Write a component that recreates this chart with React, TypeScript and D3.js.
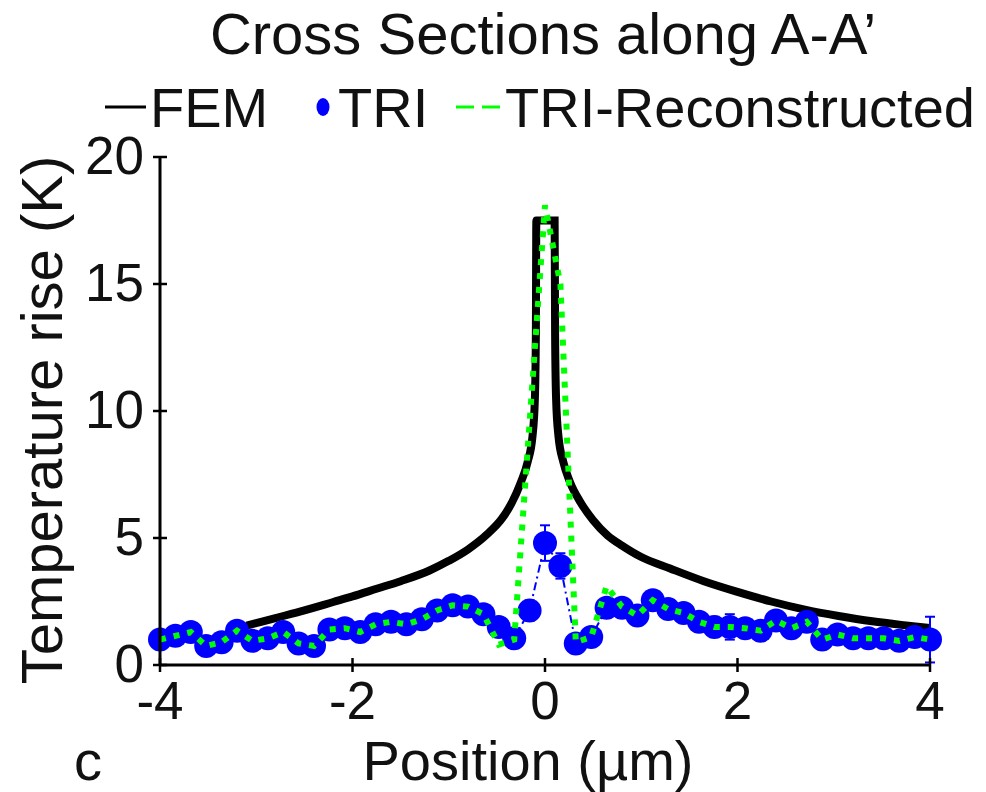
import React from "react";
import * as d3 from "d3";

// FEM curve
const femX = [-3.1, -2.8, -2.5, -2.2, -2.0, -1.75, -1.5, -1.2, -1.0, -0.8, -0.6, -0.45, -0.35, -0.25, -0.18, -0.13, -0.105, -0.095, -0.09, 0.1, 0.105, 0.115, 0.14, 0.19, 0.26, 0.37, 0.5, 0.65, 0.8, 1.0, 1.3, 1.65, 2.0, 2.35, 2.7, 3.05, 3.4, 3.7, 4.0];
const femT = [1.55, 1.85, 2.15, 2.48, 2.7, 3.0, 3.3, 3.72, 4.1, 4.55, 5.15, 5.75, 6.35, 7.2, 8.0, 9.0, 10.5, 13.0, 17.5, 17.5, 13.0, 10.5, 9.0, 8.0, 7.2, 6.4, 5.7, 5.1, 4.7, 4.25, 3.8, 3.3, 2.88, 2.5, 2.18, 1.93, 1.72, 1.58, 1.46];

// TRI measured points
const triX = [-4.0, -3.84, -3.68, -3.52, -3.36, -3.2, -3.04, -2.88, -2.72, -2.56, -2.4, -2.24, -2.08, -1.92, -1.76, -1.6, -1.44, -1.28, -1.12, -0.96, -0.8, -0.64, -0.48, -0.32, -0.16, 0.0, 0.16, 0.32, 0.48, 0.64, 0.8, 0.96, 1.12, 1.28, 1.44, 1.6, 1.76, 1.92, 2.08, 2.24, 2.4, 2.56, 2.72, 2.88, 3.04, 3.2, 3.36, 3.52, 3.68, 3.84, 4.0];
const triT = [1.0, 1.15, 1.3, 0.75, 0.9, 1.35, 0.95, 1.05, 1.3, 0.85, 0.75, 1.4, 1.45, 1.3, 1.6, 1.7, 1.6, 1.8, 2.15, 2.35, 2.3, 2.0, 1.5, 1.05, 2.15, 4.8, 3.9, 0.85, 1.1, 2.25, 2.25, 1.95, 2.55, 2.2, 2.05, 1.7, 1.5, 1.5, 1.45, 1.35, 1.75, 1.45, 1.7, 1.0, 1.2, 1.05, 1.05, 1.05, 0.95, 1.1, 1.0];
const triErr = [0.3, 0.3, 0.3, 0.3, 0.3, 0.3, 0.3, 0.3, 0.3, 0.3, 0.3, 0.3, 0.3, 0.3, 0.3, 0.3, 0.3, 0.3, 0.3, 0.3, 0.3, 0.3, 0.3, 0.3, 0.4, 0.7, 0.5, 0.3, 0.3, 0.3, 0.3, 0.3, 0.3, 0.3, 0.3, 0.3, 0.4, 0.5, 0.3, 0.3, 0.3, 0.3, 0.3, 0.3, 0.3, 0.3, 0.3, 0.3, 0.3, 0.3, 0.9];

// TRI-Reconstructed
const recX = [-4.0, -3.84, -3.68, -3.52, -3.36, -3.2, -3.04, -2.88, -2.72, -2.56, -2.4, -2.24, -2.08, -1.92, -1.76, -1.6, -1.44, -1.28, -1.12, -0.96, -0.8, -0.64, -0.48, -0.32, 0.0, 0.16, 0.32, 0.48, 0.64, 0.8, 0.96, 1.12, 1.28, 1.44, 1.6, 1.76, 1.92, 2.08, 2.24, 2.4, 2.56, 2.72, 2.88, 3.04, 3.2, 3.36, 3.52, 3.68, 3.84, 4.0];
const recT = [1.0, 1.15, 1.3, 0.75, 0.9, 1.35, 0.95, 1.05, 1.3, 0.85, 0.75, 1.4, 1.45, 1.3, 1.6, 1.7, 1.6, 1.8, 2.15, 2.35, 2.3, 2.0, 0.8, 1.0, 18.1, 15.0, 0.9, 1.1, 3.1, 2.3, 1.95, 2.55, 2.2, 2.05, 1.7, 1.5, 1.5, 1.45, 1.35, 1.75, 1.45, 1.7, 1.0, 1.2, 1.05, 1.05, 1.05, 0.95, 1.1, 1.0];

const xTicks = [-4, -2, 0, 2, 4];
const yTicks = [0, 5, 10, 15, 20];

const title = "Cross Sections along A-A\u2019";
const legendLabels = ["FEM", "TRI", "TRI-Reconstructed"];
const xLabel = "Position (\u00b5m)";
const yLabel = "Temperature rise (K)";
const panelLabel = "c";

const FONT = "'Liberation Sans', Arial, Helvetica, sans-serif";
const BLUE = "#0000ff";
const GREEN = "#00ff00";

export default function App() {
  const W = 986, H = 792;
  const x = d3.scaleLinear().domain([-4, 4]).range([160, 930]);
  const y = d3.scaleLinear().domain([0, 20]).range([665, 157]);

  const fem = femX.map((v, i) => [v, femT[i]] as [number, number]);
  const tri = triX.map((v, i) => [v, triT[i]] as [number, number]);
  const rec = recX.map((v, i) => [v, recT[i]] as [number, number]);

  const femLine = d3.line<[number, number]>().x(d => x(d[0])).y(d => y(d[1])).curve(d3.curveMonotoneX);
  const lin = d3.line<[number, number]>().x(d => x(d[0])).y(d => y(d[1]));

  const tickFs = 53;
  const fs = 56;

  return (
    <svg width={W} height={H} style={{ position: "absolute", left: 0, top: 0, display: "block", background: "#fff" }} fontFamily={FONT}>
      <rect width={W} height={H} fill="#fff" />
      {/* title */}
      <text x={543} y={54} fontSize={58} textAnchor="middle" fill="#111">{title}</text>
      {/* legend */}
      <g>
        <line x1={105} x2={146} y1={107} y2={107} stroke="#000" strokeWidth={3} />
        <text x={150} y={127} fontSize={fs} fill="#111">{legendLabels[0]}</text>
        <ellipse cx={323} cy={107} rx={6.5} ry={9} fill={BLUE} />
        <text x={338} y={127} fontSize={fs} fill="#111">{legendLabels[1]}</text>
        <line x1={456} x2={474} y1={107} y2={107} stroke={GREEN} strokeWidth={3} />
        <line x1={482} x2={500} y1={107} y2={107} stroke={GREEN} strokeWidth={3} />
        <text x={505} y={127} fontSize={fs} fill="#111">{legendLabels[2]}</text>
      </g>

      {/* FEM */}
      <path d={femLine(fem) || ""} fill="none" stroke="#000" strokeWidth={8} strokeLinejoin="miter" />

      {/* TRI line and error bars */}
      <path d={lin(tri) || ""} fill="none" stroke={BLUE} strokeWidth={2} strokeDasharray="8,4,2,4" />
      {tri.map((d, i) => (
        <g key={"e" + i} stroke={BLUE} strokeWidth={2}>
          <line x1={x(d[0])} x2={x(d[0])} y1={y(d[1] - triErr[i])} y2={y(d[1] + triErr[i])} />
          <line x1={x(d[0]) - 5} x2={x(d[0]) + 5} y1={y(d[1] + triErr[i])} y2={y(d[1] + triErr[i])} />
          <line x1={x(d[0]) - 5} x2={x(d[0]) + 5} y1={y(d[1] - triErr[i])} y2={y(d[1] - triErr[i])} />
        </g>
      ))}
      {tri.map((d, i) => (
        <circle key={"c" + i} cx={x(d[0])} cy={y(d[1])} r={12} fill={BLUE} />
      ))}

      {/* Reconstructed */}
      <path d={lin(rec) || ""} fill="none" stroke={GREEN} strokeWidth={6} strokeDasharray="6,8" />

      {/* axes */}
      <line x1={x(-4)} x2={x(4)} y1={y(0)} y2={y(0)} stroke="#000" strokeWidth={3} />
      <line x1={x(-4)} x2={x(-4)} y1={y(0)} y2={y(20)} stroke="#000" strokeWidth={3} />
      {xTicks.map(t => (
        <g key={"xt" + t}>
          <line x1={x(t)} x2={x(t)} y1={y(0) - 7} y2={y(0) + 7} stroke="#000" strokeWidth={2.5} />
          <text x={x(t)} y={719} fontSize={tickFs} textAnchor="middle" fill="#111">{t}</text>
        </g>
      ))}
      {yTicks.map(t => (
        <g key={"yt" + t}>
          <line x1={x(-4) - 7} x2={x(-4) + 7} y1={y(t)} y2={y(t)} stroke="#000" strokeWidth={2.5} />
          <text x={144} y={y(t) + 17} fontSize={tickFs} textAnchor="end" fill="#111">{t}</text>
        </g>
      ))}

      {/* axis labels */}
      <text x={528} y={780} fontSize={fs} textAnchor="middle" fill="#111">{xLabel}</text>
      <text transform={`translate(62,420) rotate(-90)`} fontSize={58} textAnchor="middle" fill="#111">{yLabel}</text>
      <text x={74} y={780} fontSize={fs} fill="#111">{panelLabel}</text>
    </svg>
  );
}
